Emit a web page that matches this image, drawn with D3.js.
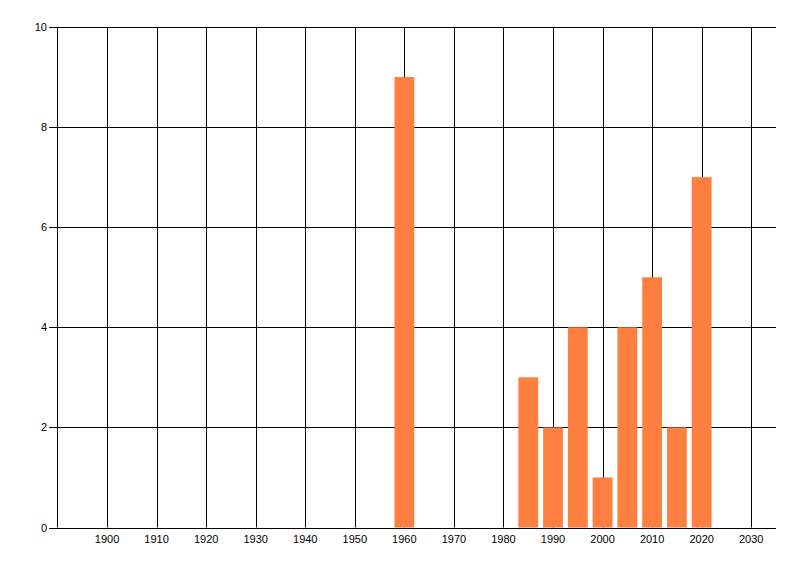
<!DOCTYPE html>
<html><head><meta charset="utf-8">
<script src="https://cdn.jsdelivr.net/npm/d3@7"></script>
<style>body{margin:0;background:#fff;} svg{display:block;}</style>
</head><body>
<svg id="chart" width="800" height="576"></svg>
<script>
const years = [1960, 1985, 1990, 1995, 2000, 2005, 2010, 2015, 2020];
const counts = [9, 3, 2, 4, 1, 4, 5, 2, 7];
const xTicks = [1900, 1910, 1920, 1930, 1940, 1950, 1960, 1970, 1980, 1990, 2000, 2010, 2020, 2030];
const yTicks = [0, 2, 4, 6, 8, 10];

const svg = d3.select("#chart");
const x = d3.scaleLinear().domain([1890, 2035]).range([57.5, 776]);
const y = d3.scaleLinear().domain([0, 10]).range([527.5, 27]);
const barYears = 4;
const font = "'Liberation Sans', Arial, sans-serif";

// vertical grid
svg.append("g").selectAll("line").data(xTicks).join("line")
  .attr("x1", d => Math.round(x(d)) + 0.5).attr("x2", d => Math.round(x(d)) + 0.5)
  .attr("y1", y(10)).attr("y2", y(0))
  .attr("stroke", "#000").attr("stroke-width", 1);
// horizontal grid + y ticks
svg.append("g").selectAll("line").data(yTicks).join("line")
  .attr("x1", 49).attr("x2", 776)
  .attr("y1", d => Math.round(y(d)) + 0.5).attr("y2", d => Math.round(y(d)) + 0.5)
  .attr("stroke", "#000").attr("stroke-width", 1);
// y axis line
svg.append("line").attr("x1", 57.5).attr("x2", 57.5).attr("y1", y(10)).attr("y2", y(0))
  .attr("stroke", "#000");

// bars
svg.append("g").selectAll("rect").data(years).join("rect")
  .attr("x", (d) => x(d - barYears / 2))
  .attr("width", (d) => x(d + barYears / 2) - x(d - barYears / 2))
  .attr("y", (d, i) => y(counts[i]))
  .attr("height", (d, i) => y(0) - y(counts[i]))
  .attr("fill", "#FF7F40");

// y labels
svg.append("g").selectAll("text").data(yTicks).join("text")
  .attr("x", 47).attr("y", d => y(d) + 4)
  .attr("text-anchor", "end")
  .attr("font-family", font).attr("font-size", 11).attr("fill", "#000")
  .text(d => d);
// x labels
svg.append("g").selectAll("text").data(xTicks).join("text")
  .attr("x", d => x(d)).attr("y", 543)
  .attr("text-anchor", "middle")
  .attr("font-family", font).attr("font-size", 11).attr("fill", "#000")
  .text(d => d);
</script>
</body></html>
